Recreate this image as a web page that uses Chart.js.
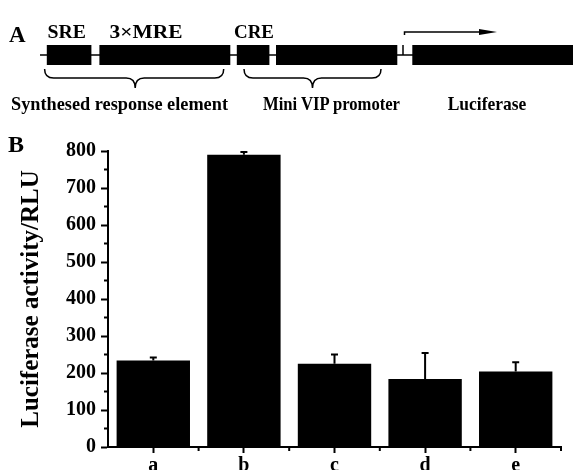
<!DOCTYPE html>
<html>
<head>
<meta charset="utf-8">
<script src="https://cdn.jsdelivr.net/npm/chart.js@4.4.0/dist/chart.umd.min.js"></script>
<style>
  html, body { margin: 0; padding: 0; background: #fff; }
  #quadro { position: relative; width: 573px; height: 470px; }
  #grafico { position: absolute; left: 0; top: 0; }
  #esquema { position: absolute; left: 0; top: 0; pointer-events: none; }
  #esquema text { font-family: "Liberation Serif", serif; font-weight: bold; fill: #000; }
</style>
</head>
<body>
<div id="quadro">
  <canvas id="grafico" width="573" height="470"></canvas>

  <!-- Painel A: construção do vetor repórter -->
  <svg id="esquema" width="573" height="470">
    <text x="9" y="42" font-size="23">A</text>
    <text x="47.5" y="38" font-size="19" textLength="38.5" lengthAdjust="spacingAndGlyphs">SRE</text>
    <text x="109.6" y="38" font-size="19" textLength="73" lengthAdjust="spacingAndGlyphs">3×MRE</text>
    <text x="234" y="38" font-size="19" textLength="40" lengthAdjust="spacingAndGlyphs">CRE</text>

    <line x1="40" y1="55" x2="573" y2="55" stroke="#000" stroke-width="1.5"/>
    <rect x="46.8" y="45" width="44.6" height="20" fill="#000"/>
    <rect x="99.4" y="45" width="130.9" height="20" fill="#000"/>
    <rect x="236.8" y="45" width="32.6" height="20" fill="#000"/>
    <rect x="276" y="45" width="121.3" height="20" fill="#000"/>
    <rect x="412.3" y="45" width="160.7" height="20" fill="#000"/>

    <!-- início da transcrição -->
    <line x1="403" y1="45" x2="403" y2="55" stroke="#000" stroke-width="1.5"/>
    <path d="M404.5 35 V32 H482" fill="none" stroke="#000" stroke-width="1.5"/>
    <polygon points="479,29 497,32 479,35" fill="#000"/>

    <!-- chaves -->
    <path d="M44.6 69 Q44.6 78 53.6 78 H126.2 Q135.2 78 135.2 88 Q135.2 78 144.2 78 H214.7 Q223.7 78 223.7 69" fill="none" stroke="#000" stroke-width="1.5"/>
    <path d="M244 69 Q244 78 253 78 H303.5 Q312.5 78 312.5 88 Q312.5 78 321.5 78 H372 Q381 78 381 69" fill="none" stroke="#000" stroke-width="1.5"/>

    <text x="11" y="109.6" font-size="19" textLength="217" lengthAdjust="spacingAndGlyphs">Synthesed response element</text>
    <text x="263" y="109.6" font-size="19" textLength="137" lengthAdjust="spacingAndGlyphs">Mini VIP promoter</text>
    <text x="447.7" y="109.6" font-size="19" textLength="78.6" lengthAdjust="spacingAndGlyphs">Luciferase</text>

    <text x="8" y="152" font-size="24">B</text>
  </svg>
</div>

<script>
// Dados do ensaio de luciferase (grupos a–e)
const grupos = ['a', 'b', 'c', 'd', 'e'];
const atividade = [234, 790, 225, 184, 204];
const erro = [8, 7, 25, 70, 25];
const eixoYMin = 0;
const eixoYMax = 800;
const passoY = 100;

const fonteSerif = '"Liberation Serif", serif';

// Barras de erro (só para cima, com traço no topo)
const barrasDeErro = {
  id: 'barrasDeErro',
  afterDatasetsDraw(chart) {
    const ctx = chart.ctx;
    const y = chart.scales.y;
    const meta = chart.getDatasetMeta(0);
    ctx.save();
    ctx.strokeStyle = '#000';
    ctx.lineWidth = 2;
    meta.data.forEach((barra, i) => {
      const topo = y.getPixelForValue(atividade[i]);
      const ponta = y.getPixelForValue(atividade[i] + erro[i]);
      ctx.beginPath();
      ctx.moveTo(barra.x, topo);
      ctx.lineTo(barra.x, ponta);
      ctx.moveTo(barra.x - 3.5, ponta);
      ctx.lineTo(barra.x + 3.5, ponta);
      ctx.stroke();
    });
    ctx.restore();
  }
};

// Marcas menores nos eixos
const marcasMenores = {
  id: 'marcasMenores',
  afterDraw(chart) {
    const ctx = chart.ctx;
    const { x, y } = chart.scales;
    const area = chart.chartArea;
    ctx.save();
    ctx.strokeStyle = '#000';
    ctx.lineWidth = 2;
    ctx.beginPath();
    for (let v = eixoYMin + passoY / 2; v < eixoYMax; v += passoY) {
      const py = y.getPixelForValue(v);
      ctx.moveTo(area.left - 4, py);
      ctx.lineTo(area.left, py);
    }
    const larg = (area.right - area.left) / grupos.length;
    for (let k = 1; k <= grupos.length; k++) {
      const px = area.left + k * larg;
      ctx.moveTo(px, area.bottom);
      ctx.lineTo(px, area.bottom + 4);
    }
    ctx.stroke();
    ctx.restore();
  }
};

new Chart(document.getElementById('grafico'), {
  type: 'bar',
  data: {
    labels: grupos,
    datasets: [{
      data: atividade,
      backgroundColor: '#000',
      borderWidth: 0,
      barPercentage: 0.81,
      categoryPercentage: 1.0
    }]
  },
  options: {
    responsive: false,
    animation: false,
    layout: { padding: { top: 151, right: 12, left: 0, bottom: 0 } },
    plugins: {
      legend: { display: false },
      tooltip: { enabled: false }
    },
    scales: {
      x: {
        offset: true,
        grid: { drawOnChartArea: false, offset: false, tickLength: 6, tickWidth: 2, tickColor: '#000' },
        border: { color: '#000', width: 2 },
        ticks: { color: '#000', padding: 1, font: { family: fonteSerif, size: 20, weight: 'bold' } },
        afterFit: (s) => { s.height = 23; }
      },
      y: {
        min: eixoYMin,
        max: eixoYMax,
        grid: { drawOnChartArea: false, tickLength: 7, tickWidth: 2, tickColor: '#000' },
        border: { color: '#000', width: 2 },
        ticks: { stepSize: passoY, color: '#000', padding: 5, font: { family: fonteSerif, size: 20, weight: 'bold' } },
        title: {
          display: true,
          text: 'Luciferase activity/RLU',
          color: '#000',
          padding: { top: 17, bottom: 0 },
          font: { family: fonteSerif, size: 25, weight: 'bold' }
        },
        afterFit: (s) => { s.width = 108; }
      }
    }
  },
  plugins: [barrasDeErro, marcasMenores]
});
</script>
</body>
</html>
